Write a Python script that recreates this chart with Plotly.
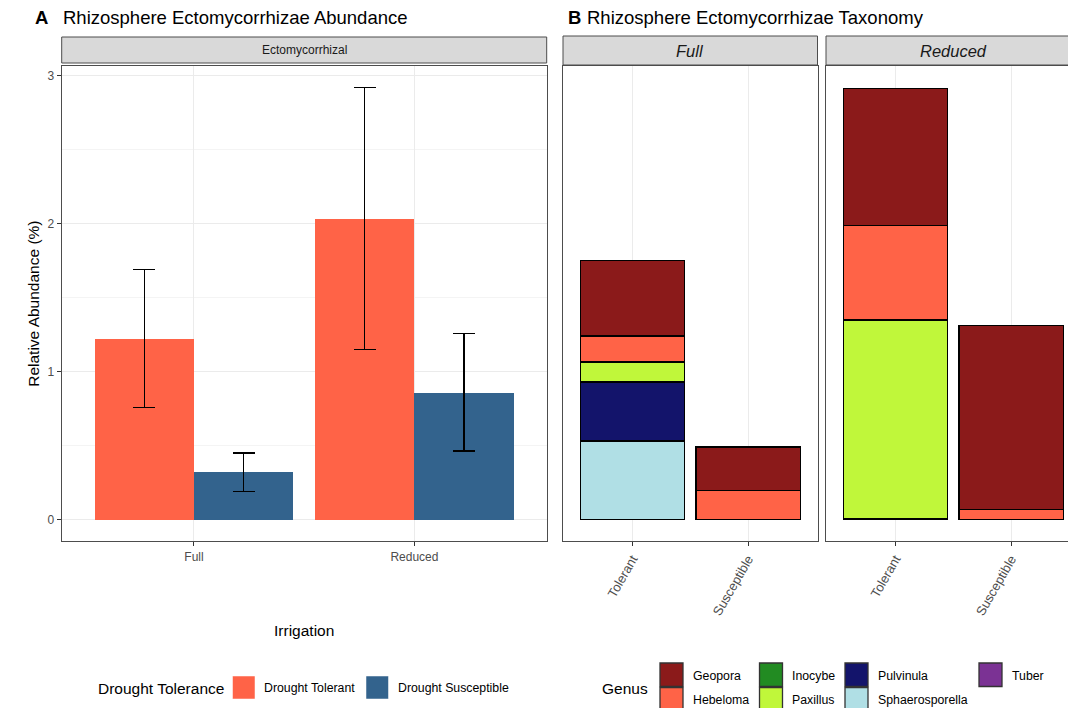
import plotly.graph_objects as go

W, H = 1068, 708
FONT = "Liberation Sans, Arial, Helvetica, sans-serif"

# ---------------- data ----------------
irrigation = ["Full", "Reduced"]
tolerance_groups = ["Drought Tolerant", "Drought Susceptible"]
tolerance_colors = ["#FF6347", "#33638D"]
tol_mean = [1.22, 2.035]
tol_lo = [0.76, 1.15]
tol_hi = [1.69, 2.92]
sus_mean = [0.32, 0.856]
sus_lo = [0.19, 0.465]
sus_hi = [0.45, 1.26]

tax_categories = ["Tolerant", "Susceptible"]
genera = ["Geopora", "Hebeloma", "Inocybe", "Paxillus", "Pulvinula", "Sphaerosporella", "Tuber"]
genus_colors = ["#8B1A1A", "#FF6347", "#228B22", "#C0F73A", "#13146B", "#B0DFE5", "#7B3294"]
# values per genus: [Tolerant, Susceptible]
full_vals = {
    "Geopora": [0.512, 0.293],
    "Hebeloma": [0.17, 0.198],
    "Inocybe": [0.006, None],
    "Paxillus": [0.134, None],
    "Pulvinula": [0.40, None],
    "Sphaerosporella": [0.531, None],
    "Tuber": [None, None],
}
reduced_vals = {
    "Geopora": [0.93, 1.247],
    "Hebeloma": [0.636, 0.067],
    "Inocybe": [None, None],
    "Paxillus": [1.34, None],
    "Pulvinula": [0.01, None],
    "Sphaerosporella": [None, None],
    "Tuber": [None, None],
}


def px(x):
    return x / W


def py(y):
    return 1 - y / H


fig = go.Figure()

# ---------------- panel A ----------------
half = 0.225
fig.add_trace(go.Bar(
    x=[i - half for i in range(len(irrigation))], y=tol_mean, width=0.45,
    marker=dict(color=tolerance_colors[0], line=dict(width=0)),
    error_y=dict(type="data", symmetric=False,
                 array=[h - m for h, m in zip(tol_hi, tol_mean)],
                 arrayminus=[m - l for m, l in zip(tol_mean, tol_lo)],
                 color="black", thickness=1.3, width=11),
    name=tolerance_groups[0], xaxis="x", yaxis="y", showlegend=False,
))
fig.add_trace(go.Bar(
    x=[i + half for i in range(len(irrigation))], y=sus_mean, width=0.45,
    marker=dict(color=tolerance_colors[1], line=dict(width=0)),
    error_y=dict(type="data", symmetric=False,
                 array=[h - m for h, m in zip(sus_hi, sus_mean)],
                 arrayminus=[m - l for m, l in zip(sus_mean, sus_lo)],
                 color="black", thickness=1.3, width=11),
    name=tolerance_groups[1], xaxis="x", yaxis="y", showlegend=False,
))

# ---------------- panel B (stacked) ----------------
for facet_vals, xa, ya in [(full_vals, "x2", "y2"), (reduced_vals, "x3", "y3")]:
    for g in reversed(genera):
        c = genus_colors[genera.index(g)]
        fig.add_trace(go.Bar(
            x=tax_categories, y=facet_vals[g], width=0.9,
            marker=dict(color=c, line=dict(color="black", width=1.3)),
            name=g, xaxis=xa, yaxis=ya, showlegend=False,
        ))

y_top, y_bot = 66, 541.3
ydom = [py(y_bot), py(y_top)]
yrange = [-0.146, 3.066]

axis_common = dict(showline=True, linecolor="#4D4D4D", linewidth=1, zeroline=False)

fig.update_layout(
    width=W, height=H, barmode="stack",
    margin=dict(l=0, r=0, t=0, b=0),
    paper_bgcolor="white", plot_bgcolor="white",
    font=dict(family=FONT, color="black"),
    showlegend=False,
    xaxis=dict(domain=[px(61.7), px(546.7)], range=[-0.6, 1.6], anchor="y",
               tickmode="array", tickvals=list(range(len(irrigation))), ticktext=irrigation,
               showgrid=True, gridcolor="#EBEBEB", gridwidth=1.1, mirror=True,
               ticks="outside", ticklen=4, tickcolor="#333333",
               tickfont=dict(size=12, color="#4D4D4D"),
               title=dict(text="Irrigation", font=dict(size=15.5, color="black"), standoff=62),
               **axis_common),
    yaxis=dict(domain=ydom, range=yrange, anchor="x", tick0=0, dtick=1,
               showgrid=True, gridcolor="#EBEBEB", gridwidth=1.1, mirror=True,
               minor=dict(dtick=0.5, showgrid=True, gridcolor="#F4F4F4", gridwidth=0.8, ticks=""),
               ticks="outside", ticklen=4, tickcolor="#333333",
               tickfont=dict(size=12, color="#4D4D4D"),
               title=dict(text="Relative Abundance (%)", font=dict(size=15.5, color="black"), standoff=4),
               **axis_common),
    xaxis2=dict(domain=[px(563), px(817.5)], range=[-0.6, 1.6], anchor="y2",
                type="category", categoryorder="array", categoryarray=tax_categories,
                showgrid=True, gridcolor="#EBEBEB", gridwidth=1.1, mirror=True,
                ticks="outside", ticklen=4, tickcolor="#333333", tickangle=-60,
                tickfont=dict(size=13, color="#4D4D4D"), **axis_common),
    yaxis2=dict(domain=ydom, range=yrange, anchor="x2", showgrid=False,
                showticklabels=False, ticks="", mirror=True, **axis_common),
    xaxis3=dict(domain=[px(826), 1.0], range=[-0.6, -0.6 + (W - 826) / 115.7], anchor="y3",
                type="category", categoryorder="array", categoryarray=tax_categories,
                showgrid=True, gridcolor="#EBEBEB", gridwidth=1.1, mirror=True,
                ticks="outside", ticklen=4, tickcolor="#333333", tickangle=-60,
                tickfont=dict(size=13, color="#4D4D4D"), **axis_common),
    yaxis3=dict(domain=ydom, range=yrange, anchor="x3", showgrid=False,
                showticklabels=False, ticks="", mirror=False, **axis_common),
)

shapes = []
annotations = []

# strips
strips = [
    (61.7, 546.7, 37, 63, "Ectomycorrhizal", 12, "normal", "#1A1A1A"),
    (563, 817.5, 36, 65, "Full", 16.5, "italic", "#1A1A1A"),
    (826, 1081, 36, 65, "Reduced", 16.5, "italic", "#1A1A1A"),
]
for x0, x1, y0, y1, txt, fs, style, col in strips:
    shapes.append(dict(type="rect", xref="paper", yref="paper",
                       x0=px(x0), x1=px(x1), y0=py(y1), y1=py(y0),
                       fillcolor="#D9D9D9", line=dict(color="#4D4D4D", width=1), layer="above"))
    annotations.append(dict(xref="paper", yref="paper", x=px((x0 + x1) / 2), y=py((y0 + y1) / 2),
                            text=txt, showarrow=False, xanchor="center", yanchor="middle",
                            font=dict(size=fs, style=style, color=col, family=FONT)))

# titles
for x, txt, bold in [(33, "A", True), (61, "Rhizosphere Ectomycorrhizae Abundance", False),
                     (566, "B", True), (585, "Rhizosphere Ectomycorrhizae Taxonomy", False)]:
    annotations.append(dict(xref="paper", yref="paper", x=px(x), y=py(17.5),
                            text=f"<b>{txt}</b>" if bold else txt, showarrow=False,
                            xanchor="left", yanchor="middle",
                            font=dict(size=18.5, color="black", family=FONT)))

# legend: Drought Tolerance
annotations.append(dict(xref="paper", yref="paper", x=px(96), y=py(688), text="Drought Tolerance",
                        showarrow=False, xanchor="left", yanchor="middle",
                        font=dict(size=15.5, color="black", family=FONT)))
leg1_keys = [232.5, 366]
for i, (name, col) in enumerate(zip(tolerance_groups, tolerance_colors)):
    kx = leg1_keys[i]
    shapes.append(dict(type="rect", xref="paper", yref="paper",
                       x0=px(kx), x1=px(kx + 22.5), y0=py(699), y1=py(676),
                       fillcolor=col, line=dict(color="white", width=0.5)))
    annotations.append(dict(xref="paper", yref="paper", x=px(kx + 29.5), y=py(688), text=name,
                            showarrow=False, xanchor="left", yanchor="middle",
                            font=dict(size=12.3, color="black", family=FONT)))

# legend: Genus
annotations.append(dict(xref="paper", yref="paper", x=px(600), y=py(688.5), text="Genus",
                        showarrow=False, xanchor="left", yanchor="middle",
                        font=dict(size=15.5, color="black", family=FONT)))
col_x = [660, 759.5, 845, 979]
row_y = [663, 687.5]
for i, (g, col) in enumerate(zip(genera, genus_colors)):
    c, r = i // 2, i % 2
    kx, ky = col_x[c], row_y[r]
    shapes.append(dict(type="rect", xref="paper", yref="paper",
                       x0=px(kx), x1=px(kx + 23), y0=py(ky + 23.5), y1=py(ky),
                       fillcolor=col, line=dict(color="#333333", width=1.3)))
    annotations.append(dict(xref="paper", yref="paper", x=px(kx + 30.5), y=py(ky + 12.5), text=g,
                            showarrow=False, xanchor="left", yanchor="middle",
                            font=dict(size=12.3, color="black", family=FONT)))

fig.update_layout(shapes=shapes, annotations=annotations)

fig.write_html(
    "out.html",
    config={"displayModeBar": False},
    post_script="document.body.style.margin='0';document.body.style.overflow='hidden';",
)
